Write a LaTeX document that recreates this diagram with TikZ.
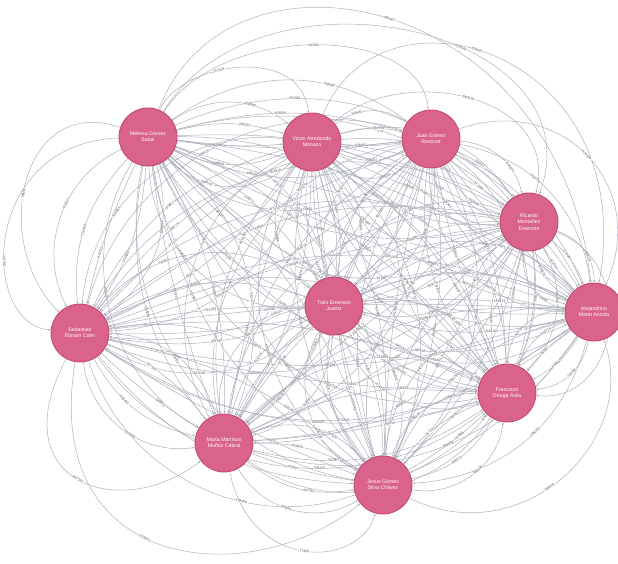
\documentclass[tikz,border=0pt]{standalone}
\usepackage{fontspec}
\setmainfont{Liberation Sans}
\usetikzlibrary{arrows.meta,backgrounds}
\definecolor{nodepink}{RGB}{217,99,138}
\definecolor{nodeedge}{RGB}{194,74,114}
\definecolor{edgegray}{RGB}{172,176,187}
\definecolor{labelgray}{RGB}{80,80,85}
\begin{document}
\begin{tikzpicture}[x=1pt,y=1pt,
  person/.style={circle,minimum size=58pt,inner sep=0pt,fill=nodepink,draw=nodeedge,line width=0.9pt,text=white,font=\fontsize{5.2}{6.2}\selectfont,align=center},
  rel/.style={draw=edgegray,line width=0.5pt,-{Latex[length=2.4pt,width=2pt]}},
  lbl/.style={font=\fontsize{3.5}{4}\selectfont,text=labelgray,fill=white,inner sep=0.35pt,sloped}]
\useasboundingbox (0,0) rectangle (618,563);
\node[person] (mel) at (148,426) {Melissa Gómez\\Salas};
\node[person] (viz) at (312,421) {Vizon Arredondo\\Monaco};
\node[person] (jua) at (431,424) {Juan Gómez\\Rosocat};
\node[person] (ric) at (529,341) {Ricardo\\Montañez\\Emerson};
\node[person] (ale) at (594,251) {Alejandrino\\Marat Ancola};
\node[person] (tul) at (334,257) {Tulio Emerson\\Juantz};
\node[person] (seb) at (80,230) {Sebastian\\Ebraim Colm};
\node[person] (mar) at (224,120) {Marta Marrison\\Muñoz Cabral};
\node[person] (jes) at (383,78) {Jesus Gómez\\Silva Chávez};
\node[person] (fra) at (507,170) {Francisco\\Ortega Ávila};
\begin{scope}[on background layer]
\pgfmathsetseed{4711}
\foreach \a/\b in {mel/viz,mel/jua,mel/ric,mel/ale,mel/tul,mel/seb,mel/mar,mel/jes,mel/fra,
  viz/jua,viz/ric,viz/ale,viz/tul,viz/seb,viz/mar,viz/jes,viz/fra,
  jua/ric,jua/ale,jua/tul,jua/seb,jua/mar,jua/jes,jua/fra,
  ric/ale,ric/tul,ric/seb,ric/mar,ric/jes,ric/fra,
  ale/tul,ale/seb,ale/mar,ale/jes,ale/fra,
  tul/seb,tul/mar,tul/jes,tul/fra,
  seb/mar,seb/jes,seb/fra,
  mar/jes,mar/fra,jes/fra}{
  \foreach \ang in {-46,-24,-6,15,36}{
    \pgfmathrandominteger{\n}{100000}{699999}
    \pgfmathsetmacro{\p}{0.3+0.4*rnd}
    \draw[rel] (\a) to[bend left=\ang] node[lbl,pos=\p]{\n} (\b);
  }
}
% large outer arcs
\draw[rel] (mel) .. controls (230,638) and (560,568) .. node[lbl,pos=0.5]{685637} (ale);
\draw[rel] (mel) .. controls (260,610) and (600,535) .. node[lbl,pos=0.6]{513546} (ric);
\draw[rel] (viz) .. controls (380,590) and (640,515) .. node[lbl,pos=0.45]{518521} (ale);
\draw[rel] (mel) .. controls (220,540) and (420,540) .. node[lbl,pos=0.5]{443561} (jua);
\draw[rel] (mel) .. controls (180,500) and (300,520) .. node[lbl,pos=0.4]{197329} (viz);
\draw[rel] (viz) .. controls (400,500) and (560,470) .. node[lbl,pos=0.5]{664130} (ric);
\draw[rel] (seb) .. controls (40,-10) and (250,-30) .. node[lbl,pos=0.45]{533672} (jes);
\draw[rel] (mar) .. controls (250,-10) and (360,-5) .. node[lbl,pos=0.5]{17460} (jes);
\draw[rel] (mel) .. controls (20,470) and (-10,320) .. node[lbl,pos=0.55]{78928} (seb);
\draw[rel] (mel) .. controls (-20,420) and (-20,240) .. node[lbl,pos=0.6]{437780} (seb);
\draw[rel] (seb) .. controls (0,80) and (120,40) .. node[lbl,pos=0.5]{867161} (mar);
\draw[rel] (jes) .. controls (520,10) and (640,120) .. node[lbl,pos=0.45]{168576} (ale);
\draw[rel] (jua) .. controls (560,470) and (650,380) .. node[lbl,pos=0.5]{403429} (ale);
\draw[rel] (ric) .. controls (640,300) and (620,160) .. node[lbl,pos=0.5]{650852} (fra);
\end{scope}
\end{tikzpicture}
\end{document}
